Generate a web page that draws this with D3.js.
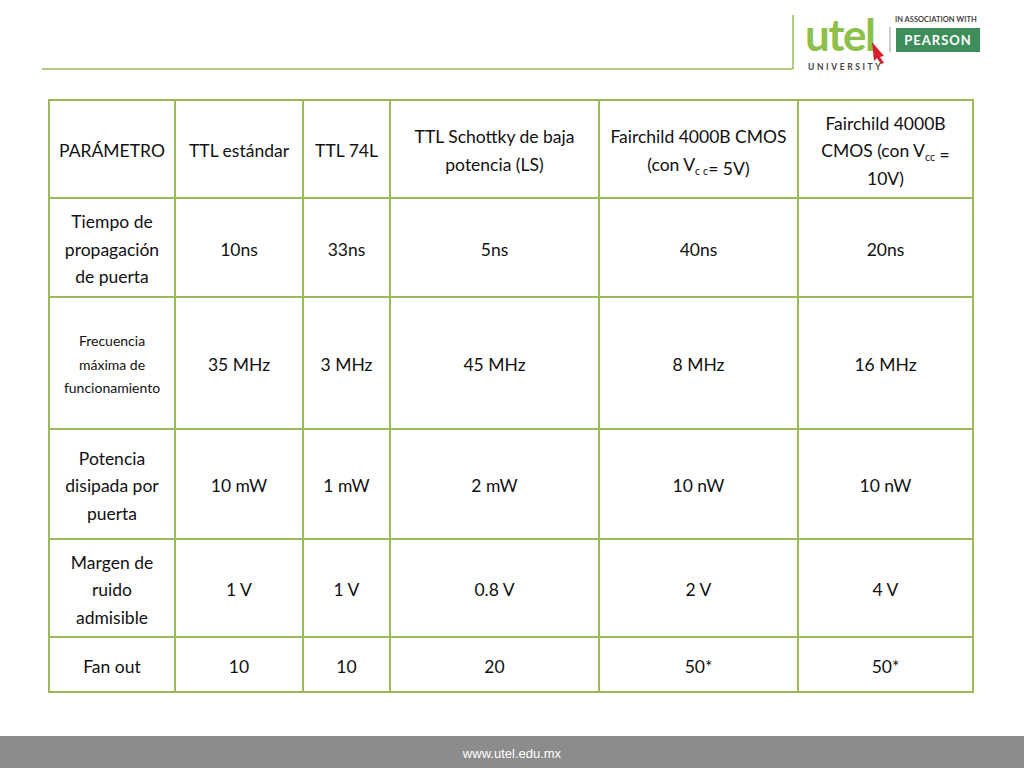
<!DOCTYPE html>
<html><head><meta charset="utf-8">
<script src="https://cdn.jsdelivr.net/npm/d3@7"></script>
<style>body{margin:0;background:#fff}svg{display:block}</style>
</head><body><svg id="c" width="1024" height="768"></svg>
<script>
// Table content (lines per cell; "_{x}" = subscript)
const headers = [["PARÁMETRO"],["TTL estándar"],["TTL 74L"],["TTL Schottky de baja","potencia (LS)"],["Fairchild 4000B CMOS","(con V_{c c}= 5V)"],["Fairchild 4000B","CMOS (con V_{cc} =","10V)"]];
const parameters = [["Tiempo de","propagación","de puerta"],["Frecuencia","máxima de","funcionamiento"],["Potencia","disipada por","puerta"],["Margen de","ruido","admisible"],["Fan out"]];
const ttlStd = ["10ns","35 MHz","10 mW","1 V","10"];
const ttl74L = ["33ns","3 MHz","1 mW","1 V","10"];
const ttlLS = ["5ns","45 MHz","2 mW","0.8 V","20"];
const cmos5 = ["40ns","8 MHz","10 nW","2 V","50*"];
const cmos10 = ["20ns","16 MHz","10 nW","4 V","50*"];
const colEdges = [49,175,303,390,599,798,973];
const rowEdges = [100,198,297,429,539,637,692];

const svg = d3.select("#c");
const green = "#9bbb59";
svg.append("line").attr("x1",42).attr("x2",793).attr("y1",69).attr("y2",69).attr("stroke",green).attr("stroke-width",1.5);
svg.append("line").attr("x1",793).attr("x2",793).attr("y1",15).attr("y2",69).attr("stroke",green).attr("stroke-width",1.5);
const lg = svg.append("g").attr("font-family","Lato, sans-serif");
lg.append("text").attr("x",805).attr("y",51).attr("font-size",44).attr("font-weight",700).attr("fill","#8dc04a").attr("letter-spacing",-1.5).text("utel");
lg.append("path").attr("d","M872,42 L884,56 L880,57 L884,63 L881,64 L877,58 L874,61 Z").attr("fill","#d6202e");
lg.append("text").attr("x",808).attr("y",70).attr("font-size",8.5).attr("font-weight",700).attr("fill","#444").attr("letter-spacing",2.6).text("UNIVERSITY");
lg.append("line").attr("x1",890).attr("x2",890).attr("y1",27).attr("y2",52).attr("stroke","#999");
lg.append("text").attr("x",895).attr("y",22).attr("font-size",7.5).attr("font-weight",700).attr("fill","#444").text("IN ASSOCIATION WITH");
lg.append("rect").attr("x",896).attr("y",28).attr("width",84).attr("height",24).attr("fill","#3e8e5c");
lg.append("text").attr("x",938).attr("y",45).attr("text-anchor","middle").attr("font-size",13).attr("font-weight",700).attr("fill","#fff").attr("letter-spacing",1).text("PEARSON");

const rowsData = [headers].concat(parameters.map((p,i)=>[p,[ttlStd[i]],[ttl74L[i]],[ttlLS[i]],[cmos5[i]],[cmos10[i]]]));
const g = svg.append("g").attr("font-family","Lato, 'Open Sans', sans-serif").attr("fill","#111");
rowsData.forEach((row,ri)=>{
  const y0=rowEdges[ri], y1=rowEdges[ri+1];
  row.forEach((lines,ci)=>{
    const x0=colEdges[ci], x1=colEdges[ci+1];
    const small = (ri===2 && ci===0);
    const fs = small?14:17.5, lh = small?23.5:27.5;
    const cx=(x0+x1)/2, cy=(y0+y1)/2+2;
    lines.forEach((ln,li)=>{
      const t=g.append("text").attr("x",cx).attr("y",cy+(li-(lines.length-1)/2)*lh+fs*0.35)
        .attr("text-anchor","middle").attr("font-size",fs);
      ln.split(/(_\{[^}]*\})/).forEach(part=>{
        if(!part) return;
        const m=part.match(/^_\{(.*)\}$/);
        if(m){ t.append("tspan").attr("font-size",fs*0.62).attr("dy",4).text(m[1]);
               t.append("tspan").attr("dy",-4).text(""); }
        else t.append("tspan").text(part);
      });
    });
  });
});
colEdges.forEach(x=>g.append("line").attr("x1",x).attr("x2",x).attr("y1",rowEdges[0]).attr("y2",rowEdges[6]).attr("stroke",green).attr("stroke-width",2));
rowEdges.forEach(y=>g.append("line").attr("x1",colEdges[0]-1).attr("x2",colEdges[6]+1).attr("y1",y).attr("y2",y).attr("stroke",green).attr("stroke-width",2));

svg.append("rect").attr("x",0).attr("y",736).attr("width",1024).attr("height",32).attr("fill","#8c8c8c");
svg.append("text").attr("x",512).attr("y",758).attr("text-anchor","middle").attr("font-family","Liberation Sans, Arial, sans-serif").attr("font-size",13).attr("fill","#fff").text("www.utel.edu.mx");
</script></body></html>
